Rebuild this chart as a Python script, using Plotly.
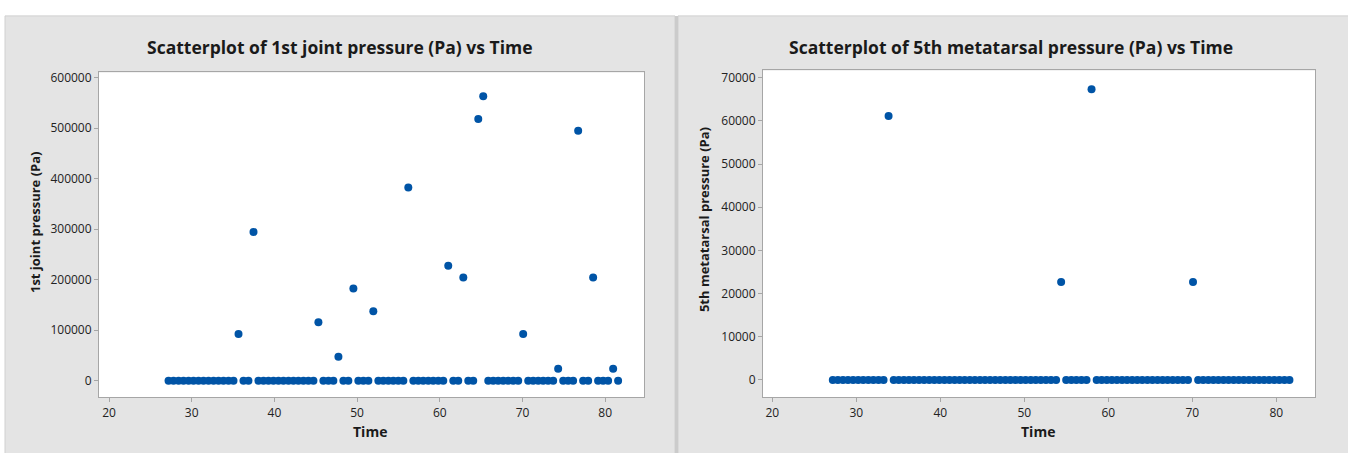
import plotly.graph_objects as go

W, H = 1348, 453

time = [27.20, 27.80, 28.41, 29.01, 29.62, 30.22, 30.82, 31.43, 32.03, 32.64,
        33.24, 33.84, 34.45, 35.05, 35.66, 36.26, 36.86, 37.47, 38.07, 38.68,
        39.28, 39.88, 40.49, 41.09, 41.70, 42.30, 42.90, 43.51, 44.11, 44.72,
        45.32, 45.92, 46.53, 47.13, 47.74, 48.34, 48.94, 49.55, 50.15, 50.76,
        51.36, 51.96, 52.57, 53.17, 53.78, 54.38, 54.98, 55.59, 56.19, 56.80,
        57.40, 58.00, 58.61, 59.21, 59.82, 60.42, 61.02, 61.63, 62.23, 62.84,
        63.44, 64.04, 64.65, 65.25, 65.86, 66.46, 67.06, 67.67, 68.27, 68.88,
        69.48, 70.08, 70.69, 71.29, 71.90, 72.50, 73.10, 73.71, 74.31, 74.92,
        75.52, 76.12, 76.73, 77.33, 77.94, 78.54, 79.14, 79.75, 80.35, 80.96,
        81.56]

# 1st joint pressure (Pa)
joint1_pressure = [0, 0, 0, 0, 0, 0, 0, 0, 0, 0,
                   0, 0, 0, 0, 92200, 0, 0, 294400, 0, 0,
                   0, 0, 0, 0, 0, 0, 0, 0, 0, 0,
                   115800, 0, 0, 0, 47100, 0, 0, 182500, 0, 0,
                   0, 137400, 0, 0, 0, 0, 0, 0, 382700, 0,
                   0, 0, 0, 0, 0, 0, 227700, 0, 0, 204100,
                   0, 0, 518200, 563300, 0, 0, 0, 0, 0, 0,
                   0, 92200, 0, 0, 0, 0, 0, 0, 23500, 0,
                   0, 0, 494600, 0, 0, 204100, 0, 0, 0, 23500,
                   0]

# 5th metatarsal pressure (Pa)
meta5_pressure = [0, 0, 0, 0, 0, 0, 0, 0, 0, 0,
                  0, 61100, 0, 0, 0, 0, 0, 0, 0, 0,
                  0, 0, 0, 0, 0, 0, 0, 0, 0, 0,
                  0, 0, 0, 0, 0, 0, 0, 0, 0, 0,
                  0, 0, 0, 0, 0, 22700, 0, 0, 0, 0,
                  0, 67300, 0, 0, 0, 0, 0, 0, 0, 0,
                  0, 0, 0, 0, 0, 0, 0, 0, 0, 0,
                  0, 22700, 0, 0, 0, 0, 0, 0, 0, 0,
                  0, 0, 0, 0, 0, 0, 0, 0, 0, 0,
                  0]

x_ticks = [20, 30, 40, 50, 60, 70, 80]
y1_ticks = [0, 100000, 200000, 300000, 400000, 500000, 600000]
y2_ticks = [0, 10000, 20000, 30000, 40000, 50000, 60000, 70000]

titles = ["Scatterplot of 1st joint pressure (Pa) vs Time",
          "Scatterplot of 5th metatarsal pressure (Pa) vs Time"]
y_titles = ["1st joint pressure (Pa)", "5th metatarsal pressure (Pa)"]
x_title = "Time"

BLUE = "#0054a6"
PANEL = "#e4e4e4"
FONT = "Open Sans, Noto Sans, sans-serif"

def px(x):
    return x / W

def py(y):
    return 1 - y / H

fig = go.Figure()
fig.add_trace(go.Scatter(x=time, y=joint1_pressure, mode="markers",
                         marker=dict(color=BLUE, size=8, line=dict(width=0)),
                         xaxis="x", yaxis="y", showlegend=False))
fig.add_trace(go.Scatter(x=time, y=meta5_pressure, mode="markers",
                         marker=dict(color=BLUE, size=8, line=dict(width=0)),
                         xaxis="x2", yaxis="y2", showlegend=False))

axis_common = dict(showgrid=False, zeroline=False, showline=True, mirror=True,
                   linecolor="#a6a6a6", linewidth=1, ticks="outside", ticklen=4,
                   tickcolor="#a6a6a6", tickfont=dict(family=FONT, size=12, color="#222"),
                   tickformat="d")

L1 = (99, 644, 69, 397)
L2 = (763, 1315, 67, 397)

fig.update_layout(
    width=W, height=H,
    margin=dict(l=0, r=0, t=0, b=0),
    paper_bgcolor="white",
    plot_bgcolor="white",
    xaxis=dict(domain=[px(L1[0]), px(L1[1])], range=[18.79, 84.69], tickvals=x_ticks,
               anchor="y", **axis_common),
    yaxis=dict(domain=[py(L1[3]), py(L1[2])], range=[-33370, 610400], tickvals=y1_ticks,
               anchor="x", **axis_common),
    xaxis2=dict(domain=[px(L2[0]), px(L2[1])], range=[18.89, 84.6], tickvals=x_ticks,
                anchor="y2", **axis_common),
    yaxis2=dict(domain=[py(L2[3]), py(L2[2])], range=[-4062, 71677], tickvals=y2_ticks,
                anchor="x2", **axis_common),
    shapes=[
        # grey panels
        dict(type="rect", xref="paper", yref="paper", x0=px(5), x1=px(675), y0=-0.01, y1=py(12),
             fillcolor=PANEL, line=dict(color="#d0d0d0", width=1), layer="below"),
        dict(type="rect", xref="paper", yref="paper", x0=px(678), x1=1.01, y0=-0.01, y1=py(12),
             fillcolor=PANEL, line=dict(color="#d0d0d0", width=1), layer="below"),
        # divider between panels
        dict(type="rect", xref="paper", yref="paper", x0=px(675), x1=px(678), y0=-0.01, y1=py(12),
             fillcolor="#cbcbcb", line=dict(width=0), layer="below"),
        # white plot areas
        dict(type="rect", xref="paper", yref="paper", x0=px(L1[0]), x1=px(L1[1]),
             y0=py(L1[3]), y1=py(L1[2]), fillcolor="white", line=dict(width=0), layer="below"),
        dict(type="rect", xref="paper", yref="paper", x0=px(L2[0]), x1=px(L2[1]),
             y0=py(L2[3]), y1=py(L2[2]), fillcolor="white", line=dict(width=0), layer="below"),
    ],
    annotations=[
        dict(text=titles[0], x=px(340), y=py(43), xref="paper", yref="paper",
             showarrow=False, xanchor="center", yanchor="middle",
             font=dict(family=FONT, size=17.5, color="#1a1a1a", weight="bold")),
        dict(text=titles[1], x=px(1011), y=py(43), xref="paper", yref="paper",
             showarrow=False, xanchor="center", yanchor="middle",
             font=dict(family=FONT, size=17.5, color="#1a1a1a", weight="bold")),
        dict(text=x_title, x=px(370), y=py(431), xref="paper", yref="paper",
             showarrow=False, xanchor="center", yanchor="middle",
             font=dict(family=FONT, size=14, color="#1a1a1a", weight="bold")),
        dict(text=x_title, x=px(1038), y=py(431), xref="paper", yref="paper",
             showarrow=False, xanchor="center", yanchor="middle",
             font=dict(family=FONT, size=14, color="#1a1a1a", weight="bold")),
        dict(text=y_titles[0], x=px(35), y=py(220), xref="paper", yref="paper",
             showarrow=False, xanchor="center", yanchor="middle", textangle=-90,
             font=dict(family=FONT, size=13, color="#1a1a1a", weight="bold")),
        dict(text=y_titles[1], x=px(704), y=py(218), xref="paper", yref="paper",
             showarrow=False, xanchor="center", yanchor="middle", textangle=-90,
             font=dict(family=FONT, size=13, color="#1a1a1a", weight="bold")),
    ],
)

fig.write_html("out.html")
